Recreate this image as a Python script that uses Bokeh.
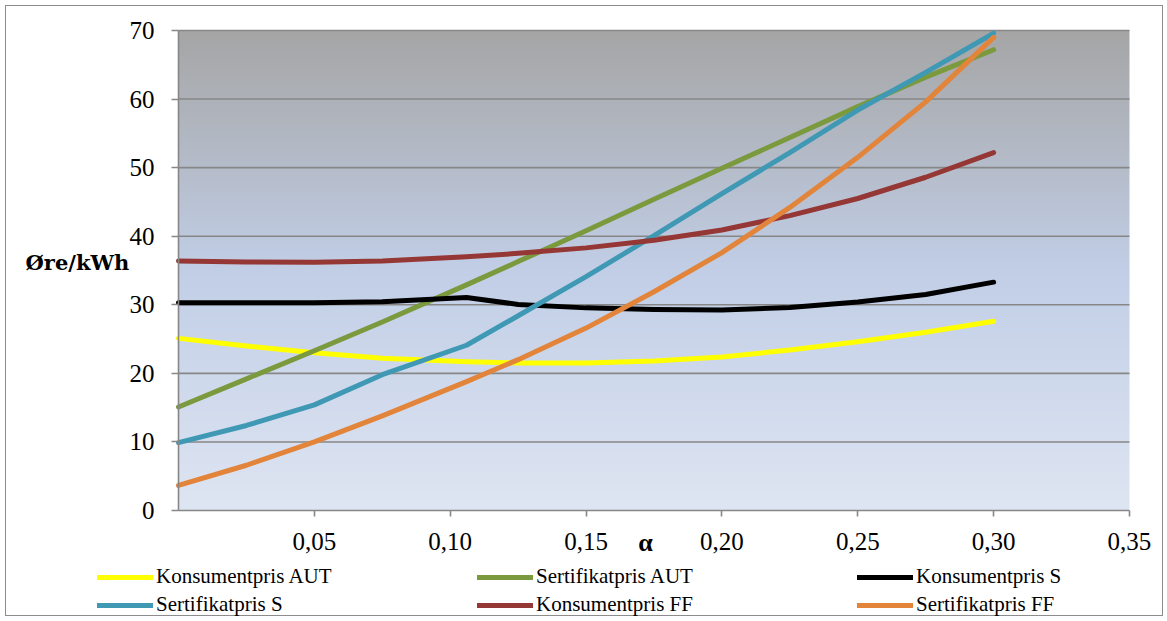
import numpy as np
from bokeh.plotting import figure
from bokeh.models import (Range1d, FixedTicker, CustomJSTickFormatter, Label,
                          Legend, LegendItem)
from bokeh.embed import file_html
from bokeh.resources import INLINE

# ---------------- data ----------------
alpha = [0.0, 0.025, 0.05, 0.075, 0.106, 0.125, 0.15, 0.175, 0.2, 0.225, 0.25, 0.275, 0.3]
konsument_aut = [25.1, 24.0, 23.0, 22.2, 21.7, 21.5, 21.5, 21.8, 22.4, 23.4, 24.6, 26.0, 27.6]
sertifikat_aut = [15.1, 19.2, 23.3, 27.5, 32.9, 36.3, 40.8, 45.4, 49.9, 54.4, 58.9, 63.2, 67.2]
konsument_s = [30.3, 30.3, 30.3, 30.45, 31.05, 30.05, 29.55, 29.3, 29.25, 29.6, 30.4, 31.5, 33.3]
sertifikat_s = [9.9, 12.4, 15.4, 19.8, 24.1, 28.4, 34.1, 40.1, 46.2, 52.2, 58.4, 63.9, 69.6]
konsument_ff = [36.4, 36.25, 36.2, 36.4, 37.0, 37.5, 38.3, 39.4, 40.9, 43.0, 45.5, 48.6, 52.2]
sertifikat_ff = [3.65, 6.6, 10.0, 13.8, 18.8, 22.0, 26.6, 31.9, 37.6, 44.2, 51.5, 59.6, 69.0]

series_names = ["Konsumentpris AUT", "Sertifikatpris AUT", "Konsumentpris S",
                "Sertifikatpris S", "Konsumentpris FF", "Sertifikatpris FF"]
series_values = [konsument_aut, sertifikat_aut, konsument_s,
                 sertifikat_s, konsument_ff, sertifikat_ff]
series_colors = ["#FFFF00", "#7A9A3D", "#000000", "#4099B4", "#953735", "#E2843A"]

x_ticks = [0.05, 0.10, 0.15, 0.20, 0.25, 0.30, 0.35]
y_ticks = [0, 10, 20, 30, 40, 50, 60, 70]
x_label = "α"
y_label = "Øre/kWh"

X_MIN, X_MAX = 0.0, 0.35
Y_MIN, Y_MAX = 0, 70

GRAY = "#878787"
FONT = "Liberation Serif"

# the frame covers the whole canvas; axes are fixed at 0 so that the legend and
# the axis titles (which sit outside the data area) are not clipped
p = figure(width=1158, height=611, output_backend="svg", toolbar_location=None,
           x_range=Range1d(-0.063303, 0.362887), y_range=Range1d(-15.604, 73.5),
           min_border=0)
p.styles = {"border": "1px solid #8c8c8c", "margin": "5px 0px 0px 5px"}
p.outline_line_color = None
p.background_fill_color = "white"
p.border_fill_color = "white"

# gradient background of the data area (style only)
rows = 480
t = np.linspace(0.0, 1.0, rows)  # 0 = bottom, 1 = top
stops = [0.0, 0.5, 1.0]
rgb_bottom, rgb_mid, rgb_top = (222, 229, 242), (193, 206, 230), (165, 165, 165)
img = np.empty((rows, 2), dtype=np.uint32)
view = img.view(dtype=np.uint8).reshape((rows, 2, 4))
for c in range(3):
    ch = np.interp(t, stops, [rgb_bottom[c], rgb_mid[c], rgb_top[c]])
    view[:, :, c] = np.round(ch)[:, None].astype(np.uint8)
view[:, :, 3] = 255
p.image_rgba(image=[img], x=X_MIN, y=Y_MIN, dw=X_MAX - X_MIN, dh=Y_MAX - Y_MIN,
             level="image")

# horizontal grid lines limited to the data area
p.xgrid.visible = False
p.ygrid.visible = False
gy = y_ticks[1:]
p.segment(x0=[X_MIN] * len(gy), x1=[X_MAX] * len(gy), y0=gy, y1=gy,
          line_color=GRAY, line_width=1.6, level="underlay")

# axes
for ax in (p.xaxis[0], p.yaxis[0]):
    ax.fixed_location = 0
    ax.axis_line_color = GRAY
    ax.axis_line_width = 1.6
    ax.major_tick_line_color = GRAY
    ax.major_tick_line_width = 1.6
    ax.major_tick_in = 0
    ax.minor_tick_line_color = None
    ax.major_label_text_font = FONT
    ax.major_label_text_font_size = "25px"
    ax.major_label_text_color = "black"

p.yaxis.bounds = (Y_MIN, Y_MAX)
p.yaxis.ticker = FixedTicker(ticks=y_ticks)
p.yaxis.major_tick_out = 7
p.yaxis.major_label_standoff = 17

p.xaxis.bounds = (X_MIN, X_MAX)
p.xaxis.ticker = FixedTicker(ticks=x_ticks)
p.xaxis.major_tick_out = 6
p.xaxis.major_label_standoff = 16
p.xaxis.formatter = CustomJSTickFormatter(code="return tick.toFixed(2).replace('.', ',');")

# lines
renderers = []
for name, vals, col in zip(series_names, series_values, series_colors):
    r = p.line(alpha, vals, line_color=col, line_width=5,
               line_cap="round", line_join="round")
    renderers.append(r)

# legend: 3 columns x 2 rows below the data area
items = [LegendItem(label=n, renderers=[r]) for n, r in zip(series_names, renderers)]
lg = Legend(items=items, location=(91, 0), orientation="horizontal", ncols=3,
            padding=0, margin=0, spacing=3, glyph_width=56, glyph_height=20,
            label_height=20, label_width=318, label_standoff=3,
            label_text_font=FONT, label_text_font_size="21px",
            label_text_color="black", border_line_color=None,
            background_fill_alpha=0)
p.add_layout(lg, "center")

# axis titles
p.add_layout(Label(x=-0.0563, y=36.2, text=y_label, text_font="DejaVu Serif",
                   text_font_style="bold", text_font_size="21px",
                   text_align="left", text_baseline="alphabetic", text_color="black"))
p.add_layout(Label(x=0.1719, y=-4.7, text=x_label, text_font=FONT,
                   text_font_style="bold", text_font_size="26px",
                   text_align="center", text_baseline="alphabetic", text_color="black"))

open("out.html", "w").write(file_html(p, INLINE))
